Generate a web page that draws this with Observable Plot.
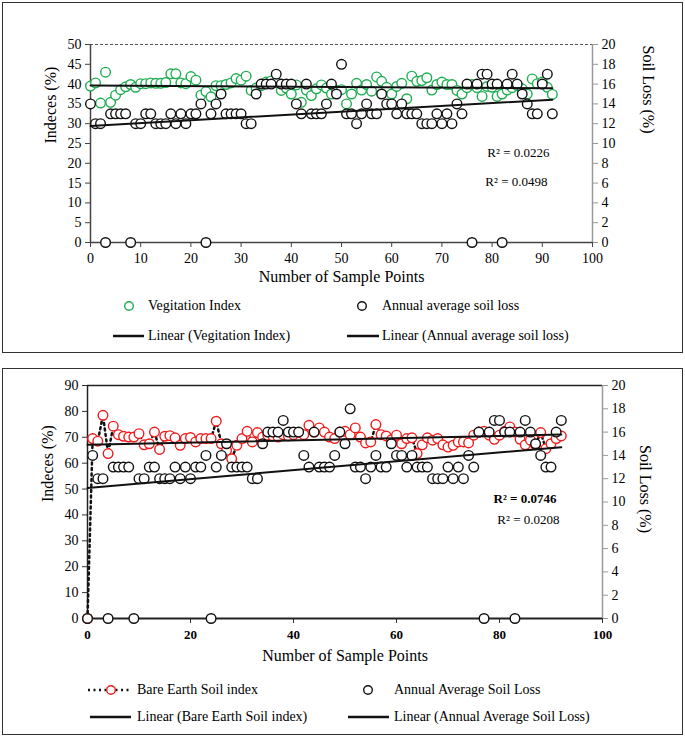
<!DOCTYPE html>
<html><head><meta charset="utf-8">
<script src="https://cdn.jsdelivr.net/npm/d3@7"></script>
<script src="https://cdn.jsdelivr.net/npm/@observablehq/plot@0.6"></script>
<style>
body{margin:0;background:#fff;font-family:"Liberation Serif","Times New Roman",serif;}
#page{position:relative;width:685px;height:737px;overflow:hidden;background:#fff;}
.box{position:absolute;border:1.5px solid #333;box-sizing:border-box;}
.chart{position:absolute;left:0;}
.leg{position:absolute;font-size:14px;color:#000;white-space:nowrap;line-height:16px;}
.sw{position:absolute;}
</style></head><body><div id="page">
<div class="box" style="left:2px;top:2px;width:681px;height:351px;"></div>
<div class="box" style="left:2px;top:368px;width:681px;height:367px;"></div>
<div id="c1" class="chart" style="top:0px;"></div>
<div id="c2" class="chart" style="top:368px;"></div>
</div>
<script>
// ---------- DATA ----------
const samplePoints = d3.range(93); // 0..92

// Top chart: Vegetation Index (%) — left axis
const vegIndex = [39.5,40.3,35.2,43.0,35.4,37.2,38.6,39.3,39.9,39.2,
  40.1,40.1,40.3,40.2,40.2,40.4,42.6,42.6,40.3,40.1,
  41.9,41.0,37.2,38.1,36.8,39.6,39.6,39.9,40.3,41.4,
  41.0,42.0,38.4,39.0,39.6,40.5,40.8,40.5,38.4,39.0,
  37.5,39.8,35.4,38.5,37.1,38.8,39.8,39.0,37.5,38.4,
  38.6,35.0,37.5,40.2,38.5,39.9,38.2,41.8,40.7,39.2,
  37.5,39.4,40.2,36.3,42.0,40.7,40.9,41.6,38.5,39.9,
  40.5,39.9,39.9,38.4,37.5,39.1,39.9,39.1,36.9,39.4,
  39.2,36.9,37.5,38.5,39.1,39.6,38.8,37.5,41.3,40.1,
  40.5,39.2,37.4];

// Top chart: Annual average soil loss (%) — right axis
const soilLossTop = [14,12,12,0,13,13,13,13,0,12,
  12,13,13,12,12,12,13,12,13,12,
  13,13,14,0,13,14,15,13,13,13,
  13,12,12,15,16,16,16,17,16,16,
  16,14,13,16,13,13,13,14,16,15,
  18,13,13,12,13,14,13,13,15,14,
  14,13,14,13,13,13,12,12,12,13,
  12,13,12,14,13,16,0,16,17,17,
  16,16,0,16,17,16,15,14,13,13,
  16,17,13];

// Bottom chart: Bare Earth Soil index (%) — left axis
const bareSoilIndex = [0,69.5,68.5,78.5,63.7,74.3,71.0,70.4,70.1,70.1,
  71.4,67.1,67.5,72.0,65.3,70.4,70.6,69.8,66.9,69.5,
  69.9,68.2,69.5,69.5,69.5,76.2,67.5,64.9,61.7,66.9,
  69.5,72.3,68.2,71.8,70.1,70.8,70.5,70.1,71.0,70.5,
  71.0,71.8,71.0,74.6,72.0,73.6,72.0,70.1,69.5,72.0,
  72.3,71.0,73.6,70.1,67.8,68.2,74.9,71.0,70.5,69.0,
  70.8,67.5,69.5,69.8,63.7,67.1,69.8,68.9,69.5,67.1,
  66.2,66.9,68.2,68.2,67.8,70.8,72.0,72.3,70.8,69.2,
  70.8,72.3,74.0,72.0,69.2,67.1,68.9,67.1,71.8,65.6,
  67.5,69.5,70.5];

// Bottom chart: Annual Average Soil Loss (%) — right axis
const soilLossBottom = [0,14,12,12,0,13,13,13,13,0,
  12,12,13,13,12,12,12,13,12,13,
  12,13,13,14,0,13,14,15,13,13,
  13,13,12,12,15,16,16,16,17,16,
  16,16,14,13,16,13,13,13,14,16,
  15,18,13,13,12,13,14,13,13,15,
  14,14,13,14,13,13,13,12,12,12,
  13,12,13,12,14,13,16,0,16,17,
  17,16,16,0,16,17,16,15,14,13,
  13,16,17];

// Tick labels
const topXTicks = d3.range(0, 101, 10);
const topLeftTicks = d3.range(0, 51, 5);       // 0..50
const topRightTicks = d3.range(0, 21, 2);      // 0..20
const botXTicks = d3.range(0, 101, 20);
const botLeftTicks = d3.range(0, 91, 10);      // 0..90
const botRightTicks = d3.range(0, 21, 2);      // 0..20

const r2Top = ["R² = 0.0226", "R² = 0.0498"];
const r2Bottom = ["R² = 0.0746", "R² = 0.0208"];

// ---------- STYLE ----------
const GREEN = "#1fae52";
const RED = "#ee1c1c";
const FONT = "Liberation Serif";

// ---------- TOP CHART ----------
const topRatio = 50 / 20; // left-scale units per right-scale unit
const vegData = samplePoints.map(i => ({x: i, y: vegIndex[i]}));
const soilTopData = samplePoints.map(i => ({x: i, y: soilLossTop[i] * topRatio}));

const chart1 = Plot.plot({
  width: 685, height: 295,
  marginLeft: 90, marginRight: 93, marginTop: 44, marginBottom: 53,
  x: {domain: [0, 100]},
  y: {domain: [0, 50]},
  style: {fontFamily: FONT, fontSize: "14px", color: "#000", background: "transparent", overflow: "visible"},
  marks: [
    Plot.ruleY([50], {stroke: "#555", strokeWidth: 1.2, strokeDasharray: "3,2"}),
    Plot.ruleX([100], {stroke: "#999", strokeWidth: 1.5}),
    Plot.axisY({anchor: "left", ticks: topLeftTicks, tickSize: 5, tickPadding: 4, label: null, fontSize: 14, stroke: "#444"}),
    Plot.axisY({anchor: "right", ticks: topRightTicks.map(v => v * topRatio), tickFormat: d => Math.round(d / topRatio), tickSize: 5, tickPadding: 4, label: null, fontSize: 14, stroke: "#999"}),
    Plot.axisX({ticks: topXTicks, tickSize: 5, tickPadding: 6, label: null, fontSize: 14, stroke: "#444"}),
    Plot.ruleX([0], {stroke: "#444", strokeWidth: 1.5}),
    Plot.ruleY([0], {stroke: "#444", strokeWidth: 1.5}),
    Plot.dot(vegData, {x: "x", y: "y", r: 4.8, stroke: GREEN, strokeWidth: 1.4, fill: "white"}),
    Plot.dot(soilTopData, {x: "x", y: "y", r: 4.8, stroke: "#111", strokeWidth: 1.4, fill: "white"}),
    Plot.linearRegressionY(vegData, {x: "x", y: "y", ci: 0, stroke: "#111", strokeWidth: 2}),
    Plot.linearRegressionY(soilTopData, {x: "x", y: "y", ci: 0, stroke: "#111", strokeWidth: 2}),
    Plot.text([r2Top[0]], {text: d => d, frameAnchor: "top-right", dx: -43, dy: 103, textAnchor: "end", fontSize: 13}),
    Plot.text([r2Top[1]], {text: d => d, frameAnchor: "top-right", dx: -45, dy: 132, textAnchor: "end", fontSize: 13}),
    Plot.text(["Number of Sample Points"], {text: d => d, frameAnchor: "bottom", dy: 39, fontSize: 16}),
    Plot.text(["Indeces (%)"], {text: d => d, frameAnchor: "left", dx: -40, rotate: -90, fontSize: 16}),
    Plot.text(["Soil Loss (%)"], {text: d => d, frameAnchor: "right", dx: 56, dy: -10, rotate: 90, fontSize: 16})
  ]
});
document.getElementById("c1").appendChild(chart1);

// ---------- BOTTOM CHART ----------
const botRatio = 90 / 20;
const bsiData = samplePoints.map(i => ({x: i, y: bareSoilIndex[i]}));
const soilBotData = samplePoints.map(i => ({x: i, y: soilLossBottom[i] * botRatio}));

const chart2 = Plot.plot({
  width: 685, height: 300,
  marginLeft: 87, marginRight: 83, marginTop: 17, marginBottom: 50,
  x: {domain: [0, 100]},
  y: {domain: [0, 90]},
  style: {fontFamily: FONT, fontSize: "14px", color: "#000", background: "transparent", overflow: "visible"},
  marks: [
    Plot.ruleY([90], {stroke: "#222", strokeWidth: 1.5}),
    Plot.ruleX([100], {stroke: "#999", strokeWidth: 1.5}),
    Plot.axisY({anchor: "left", ticks: botLeftTicks, tickSize: 5, tickPadding: 4, label: null, fontSize: 14, stroke: "#333"}),
    Plot.axisY({anchor: "right", ticks: botRightTicks.map(v => v * botRatio), tickFormat: d => Math.round(d / botRatio), tickSize: 5, tickPadding: 4, label: null, fontSize: 14, stroke: "#999"}),
    Plot.axisX({ticks: botXTicks, tickSize: 5, tickPadding: 6, label: null, fontSize: 13, fontWeight: "bold", stroke: "#333"}),
    Plot.ruleX([0], {stroke: "#222", strokeWidth: 1.5}),
    Plot.ruleY([0], {stroke: "#222", strokeWidth: 2}),
    Plot.line(bsiData, {x: "x", y: "y", stroke: "#111", strokeWidth: 2.5, strokeDasharray: "2,3.5"}),
    Plot.dot(bsiData, {x: "x", y: "y", r: 4.8, stroke: RED, strokeWidth: 1.4, fill: "white"}),
    Plot.dot(soilBotData, {x: "x", y: "y", r: 4.8, stroke: "#111", strokeWidth: 1.4, fill: "white"}),
    Plot.linearRegressionY(bsiData, {x: "x", y: "y", ci: 0, stroke: "#111", strokeWidth: 2}),
    Plot.linearRegressionY(soilBotData, {x: "x", y: "y", ci: 0, stroke: "#111", strokeWidth: 2}),
    Plot.text([r2Bottom[0]], {text: d => d, frameAnchor: "top-right", dx: -46, dy: 108, textAnchor: "end", fontSize: 13, fontWeight: "bold"}),
    Plot.text([r2Bottom[1]], {text: d => d, frameAnchor: "top-right", dx: -43, dy: 129, textAnchor: "end", fontSize: 13}),
    Plot.text(["Number of Sample Points"], {text: d => d, frameAnchor: "bottom", dy: 42, fontSize: 16}),
    Plot.text(["Indeces (%)"], {text: d => d, frameAnchor: "left", dx: -40, rotate: -90, fontSize: 16}),
    Plot.text(["Soil Loss (%)"], {text: d => d, frameAnchor: "right", dx: 43, dy: 31, rotate: 90, fontSize: 16})
  ]
});
document.getElementById("c2").appendChild(chart2);

// ---------- LEGENDS ----------
const page = document.getElementById("page");
function swatch(left, cy, w, inner) {
  const s = document.createElementNS("http://www.w3.org/2000/svg", "svg");
  s.setAttribute("class", "sw");
  s.setAttribute("width", w); s.setAttribute("height", 14);
  s.style.left = left + "px"; s.style.top = (cy - 7) + "px";
  s.innerHTML = inner;
  page.appendChild(s);
}
function label(left, cy, txt) {
  const d = document.createElement("div");
  d.className = "leg";
  d.style.left = left + "px"; d.style.top = (cy - 8) + "px";
  d.textContent = txt;
  page.appendChild(d);
}
const circ = (cx, col) => `<circle cx="${cx}" cy="7" r="4.3" fill="white" stroke="${col}" stroke-width="1.4"/>`;
const solid = w => `<line x1="0" y1="7" x2="${w}" y2="7" stroke="#111" stroke-width="2.5"/>`;

// top legend
swatch(122, 306, 14, circ(7, GREEN)); label(148, 306, "Vegitation Index");
swatch(355, 306, 14, circ(7, "#111")); label(382, 306, "Annual average soil loss");
swatch(113, 336, 31, solid(31)); label(148, 336, "Linear (Vegitation Index)");
swatch(347, 336, 32, solid(32)); label(382, 336, "Linear (Annual average soil loss)");

// bottom legend
swatch(87, 690, 44, `<line x1="1" y1="7" x2="43" y2="7" stroke="#111" stroke-width="2.5" stroke-dasharray="2,3.5"/>` + circ(24, RED));
label(137, 690, "Bare Earth Soil index");
swatch(361, 690, 14, circ(7, "#111")); label(394, 690, "Annual Average Soil Loss");
swatch(90, 717, 41, solid(41)); label(137, 717, "Linear (Bare Earth Soil index)");
swatch(348, 717, 41, solid(41)); label(394, 717, "Linear (Annual Average Soil Loss)");
</script>
</body></html>
